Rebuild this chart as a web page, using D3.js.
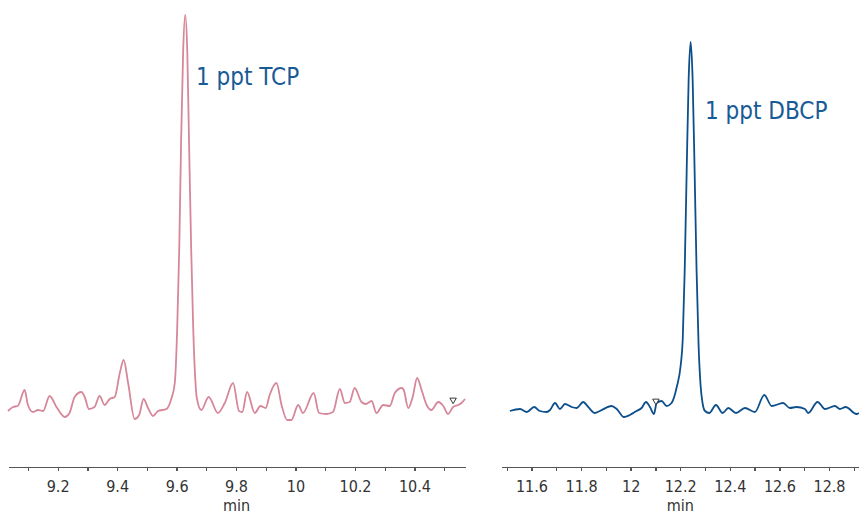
<!DOCTYPE html>
<meta charset="utf-8">
<head>
<title>TCP / DBCP chromatograms</title>
<script src="https://d3js.org/d3.v7.min.js"></script>
<style>
  body { margin: 0; background: #fff; }
  .axis text { font: 16px "DejaVu Sans Condensed", "Liberation Sans Narrow", sans-serif; fill: #333; }
  .axis path, .axis line { fill: none; stroke: #555; stroke-width: 1.3px; shape-rendering: crispEdges; }
  .unit { font: 16px "DejaVu Sans Condensed", "Liberation Sans Narrow", sans-serif; fill: #333; }
  .peak-label { font: 24px "DejaVu Sans Condensed", "Liberation Sans Narrow", sans-serif; fill: #175a96; }
</style>
</head>
<body>
<script>

// retention time (min) and abundance
var tcpTime = [9.033, 9.050, 9.066, 9.089, 9.100, 9.117, 9.134, 9.151, 9.173, 9.196,
  9.224, 9.240, 9.257, 9.280, 9.291, 9.305, 9.324, 9.341, 9.358, 9.375,
  9.392, 9.409, 9.422, 9.437, 9.459, 9.474, 9.489, 9.504, 9.521, 9.537,
  9.566, 9.583, 9.594, 9.602, 9.609, 9.615, 9.622, 9.629, 9.636, 9.642,
  9.649, 9.656, 9.663, 9.668, 9.683, 9.708, 9.739, 9.762, 9.790, 9.810,
  9.821, 9.837, 9.863, 9.882, 9.900, 9.913, 9.936, 9.953, 9.972, 9.986,
  10.009, 10.025, 10.061, 10.079, 10.104, 10.126, 10.149, 10.166, 10.182, 10.199,
  10.222, 10.236, 10.256, 10.272, 10.295, 10.317, 10.334, 10.357, 10.364, 10.379,
  10.394, 10.409, 10.424, 10.441, 10.457, 10.480, 10.497, 10.513, 10.530, 10.547,
  10.558, 10.570];
var tcpAbund = [56, 60, 61, 77, 62, 55, 57, 56, 71, 60,
  50, 54, 70, 75, 70, 58, 60, 71, 62, 68,
  70, 94, 107, 84, 48, 52, 68, 59, 51, 56,
  58, 69, 84, 138, 219, 323, 415, 452, 415, 323,
  219, 138, 87, 69, 57, 70, 54, 64, 84, 56,
  55, 75, 54, 61, 59, 72, 84, 62, 47, 47,
  62, 54, 74, 54, 53, 55, 78, 64, 65, 79,
  65, 63, 66, 54, 62, 61, 74, 79, 77, 59,
  70, 89, 77, 62, 57, 65, 61, 53, 60, 62,
  64, 68];

var dbcpTime = [11.513, 11.554, 11.581, 11.611, 11.634, 11.661, 11.675, 11.695, 11.715, 11.735,
  11.762, 11.782, 11.809, 11.829, 11.856, 11.876, 11.923, 11.944, 11.973, 11.997,
  12.024, 12.044, 12.062, 12.078, 12.094, 12.105, 12.125, 12.145, 12.165, 12.186,
  12.202, 12.210, 12.218, 12.226, 12.234, 12.242, 12.250, 12.258, 12.266, 12.274,
  12.282, 12.290, 12.300, 12.317, 12.344, 12.371, 12.394, 12.425, 12.461, 12.501,
  12.539, 12.569, 12.615, 12.642, 12.669, 12.703, 12.716, 12.754, 12.784, 12.824,
  12.844, 12.867, 12.911, 12.921];
var dbcpAbund = [56, 58, 55, 60, 56, 55, 57, 64, 58, 63,
  60, 59, 65, 60, 54, 56, 61, 58, 50, 52,
  56, 59, 65, 60, 53, 64, 66, 61, 64, 80,
  102, 127, 196, 296, 388, 425, 388, 296, 196, 122,
  82, 64, 56, 54, 62, 54, 59, 54, 59, 55,
  72, 61, 64, 59, 60, 58, 54, 65, 58, 61,
  58, 60, 53, 54];

var tcpTicks = d3.range(91, 106).map(function(d) { return d / 10; });
var dbcpTicks = d3.range(115, 130).map(function(d) { return d / 10; });

// small inverted triangles (integration markers)
var tcpMarker = [10.530, 65];
var dbcpMarker = [12.102, 64];

var width = 859, height = 516;

var svg = d3.select("body").append("svg")
    .attr("width", width)
    .attr("height", height);

var y = d3.scaleLinear().domain([0, 460]).range([467, 7]);

function tickLabel(d) {
  return Math.round(d * 10) % 2 === 0 ? String(+d.toFixed(1)) : "";
}

function panel(time, abund, ticks, marker, xDomain, xRange, color, label, labelPos) {
  var x = d3.scaleLinear().domain(xDomain).range(xRange);

  var g = svg.append("g");

  var line = d3.line()
      .x(function(d) { return x(d[0]); })
      .y(function(d) { return y(d[1]); })
      .curve(d3.curveMonotoneX);

  g.append("path")
      .datum(d3.zip(time, abund))
      .attr("d", line)
      .attr("fill", "none")
      .attr("stroke", color)
      .attr("stroke-width", 1.8);

  g.append("path")
      .attr("d", d3.symbol().type(d3.symbolTriangle).size(18))
      .attr("transform", "translate(" + x(marker[0]) + "," + (y(marker[1]) - 2) + ") rotate(180)")
      .attr("fill", "#fff")
      .attr("stroke", "#222")
      .attr("stroke-width", 0.9);

  var axis = g.append("g")
      .attr("class", "axis")
      .attr("transform", "translate(0," + y(0) + ")")
      .call(d3.axisBottom(x).tickValues(ticks).tickFormat(tickLabel).tickSize(4).tickSizeOuter(0));
  axis.selectAll("text").attr("y", 14);

  g.append("text")
      .attr("class", "unit")
      .attr("x", (xRange[0] + xRange[1]) / 2)
      .attr("y", 511)
      .attr("text-anchor", "middle")
      .text("min");

  g.append("text")
      .attr("class", "peak-label")
      .attr("x", labelPos[0])
      .attr("y", labelPos[1])
      .text(label);
}

panel(tcpTime, tcpAbund, tcpTicks, tcpMarker, [9.033, 10.570], [8, 465],
      "#d6879a", "1 ppt TCP", [196, 85]);
panel(dbcpTime, dbcpAbund, dbcpTicks, dbcpMarker, [11.480, 12.921], [501.7, 859],
      "#0d4f8b", "1 ppt DBCP", [705, 119]);

</script>
</body>
